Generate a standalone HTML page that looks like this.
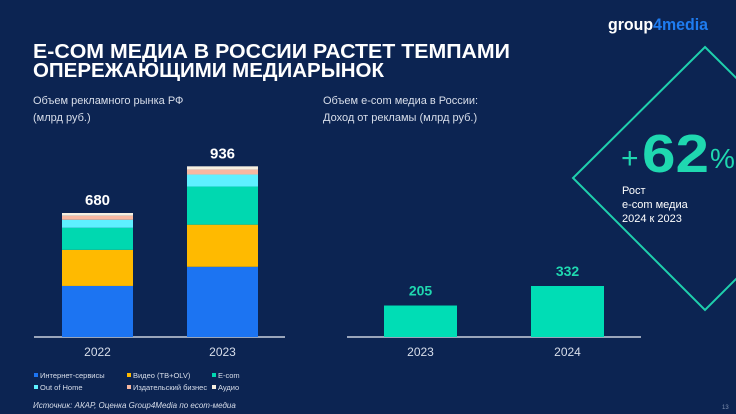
<!DOCTYPE html>
<html><head><meta charset="utf-8"><style>
body{margin:0;background:#0c2452;}
svg{display:block;font-family:"Liberation Sans","DejaVu Sans",sans-serif;}
</style></head><body>
<svg id="c" width="736" height="414" viewBox="0 0 736 414">
<rect width="736" height="414" fill="#0c2452"/>
<polygon points="705,47 837,178 705,310 573,178" fill="none" stroke="#1fd0ad" stroke-width="2"/>
<text x="608" y="30" font-size="17" font-weight="bold" fill="#fff" textLength="100" lengthAdjust="spacingAndGlyphs">group<tspan fill="#1e7cf0">4media</tspan></text>
<text x="33" y="58" font-size="20" font-weight="bold" fill="#fff" textLength="477" lengthAdjust="spacingAndGlyphs">E-COM МЕДИА В РОССИИ РАСТЕТ ТЕМПАМИ</text>
<text x="33" y="77" font-size="20" font-weight="bold" fill="#fff" textLength="351" lengthAdjust="spacingAndGlyphs">ОПЕРЕЖАЮЩИМИ МЕДИАРЫНОК</text>
<text x="33" y="104" font-size="11" fill="#d8deea">Объем рекламного рынка РФ</text>
<text x="33" y="121" font-size="11" fill="#d8deea">(млрд руб.)</text>
<text x="323" y="104" font-size="11" fill="#d8deea">Объем e-com медиа в России:</text>
<text x="323" y="121" font-size="11" fill="#d8deea">Доход от рекламы (млрд руб.)</text>
<text x="621" y="168" font-size="30" fill="#1fd8b0">+</text>
<text x="642" y="172" font-size="54" font-weight="bold" fill="#1fd8b0" textLength="67" lengthAdjust="spacingAndGlyphs">62</text>
<text x="710" y="168" font-size="28" fill="#1fd8b0">%</text>
<text x="622" y="194" font-size="11" fill="#fff">Рост</text>
<text x="622" y="208" font-size="11" fill="#fff">e-com медиа</text>
<text x="622" y="222" font-size="11" fill="#fff">2024 к 2023</text>
<line x1="34" y1="337" x2="285" y2="337" stroke="#c9d0dc" stroke-width="1.5"/>
<line x1="347" y1="337" x2="641" y2="337" stroke="#c9d0dc" stroke-width="1.5"/>
<g id="left"></g><g id="right"></g><g id="legend"></g>
<text x="33" y="408" font-size="8" font-style="italic" fill="#d8deea">Источник: АКАР, Оценка Group4Media по ecom-медиа</text>
<text x="722" y="409" font-size="6" fill="#8090b0">13</text>
</svg>
<script>
const years=["2022","2023"];
const seriesNames=["Интернет-сервисы","Видео (ТВ+OLV)","E-com","Out of Home","Издательский бизнес","Аудио"];
const internet=[280,385];
const video=[198,231];
const ecom=[121,209];
const ooh=[44,66];
const publishing=[22,27];
const audio=[15,18];
const totals=[680,936];
const ecomYears=["2023","2024"];
const ecomValues=[205,332];
const colors=["#1c74f2","#ffba00","#00d8b0","#5ef0ff","#f7b7a0","#f6efe0"];
const NS="http://www.w3.org/2000/svg";
function mk(p,t,a,txt){const e=document.createElementNS(NS,t);for(const k in a)e.setAttribute(k,a[k]);if(txt!=null)e.textContent=txt;p.appendChild(e);return e;}
const base=337;
const yL=v=>v*124/680;
const xL=i=>62+i*125;
const L=document.getElementById('left');
const stacks=[internet,video,ecom,ooh,publishing,audio];
years.forEach((yr,i)=>{let acc=0;
 stacks.forEach((s,j)=>{const h=yL(s[i]);
  const r=mk(L,'rect',{x:xL(i),y:base-yL(acc)-h,width:71,height:h,fill:colors[j]});
  
  
  acc+=s[i];});
 const t=mk(L,'text',{x:xL(i)+35.5,y:base-yL(totals[i])-8,'font-size':15,'font-weight':'bold',fill:'#fff','text-anchor':'middle'},String(totals[i]));
 
 
 const xl=mk(L,'text',{x:xL(i)+35.5,y:356,'font-size':12,fill:'#d8deea','text-anchor':'middle'},yr);
 
 
});
const yR=v=>v*51/332;
const xR=i=>384+i*147;
const R=document.getElementById('right');
ecomYears.forEach((yr,i)=>{const h=yR(ecomValues[i]);
 const r=mk(R,'rect',{x:xR(i),y:base-h,width:73,height:h,fill:'#00ddb5'});
 
 
 const t=mk(R,'text',{x:xR(i)+36.5,y:base-h-10,'font-size':14,'font-weight':'bold',fill:'#1fd8b0','text-anchor':'middle'},String(ecomValues[i]));
 
 
 const xl=mk(R,'text',{x:xR(i)+36.5,y:356,'font-size':12,fill:'#d8deea','text-anchor':'middle'},yr);
 
 
});
const G=document.getElementById('legend');
const lx=[34,127,212];
seriesNames.forEach((n,j)=>{const x=lx[j%3],y=j<3?378:390;
 const g=mk(G,'g',{});
 
 
 mk(g,'rect',{x:x,y:y-5,width:4,height:4,fill:colors[j]});
 mk(g,'text',{x:x+6,y:y,'font-size':7.5,fill:'#d8deea'},n);
});
</script>
</body></html>
